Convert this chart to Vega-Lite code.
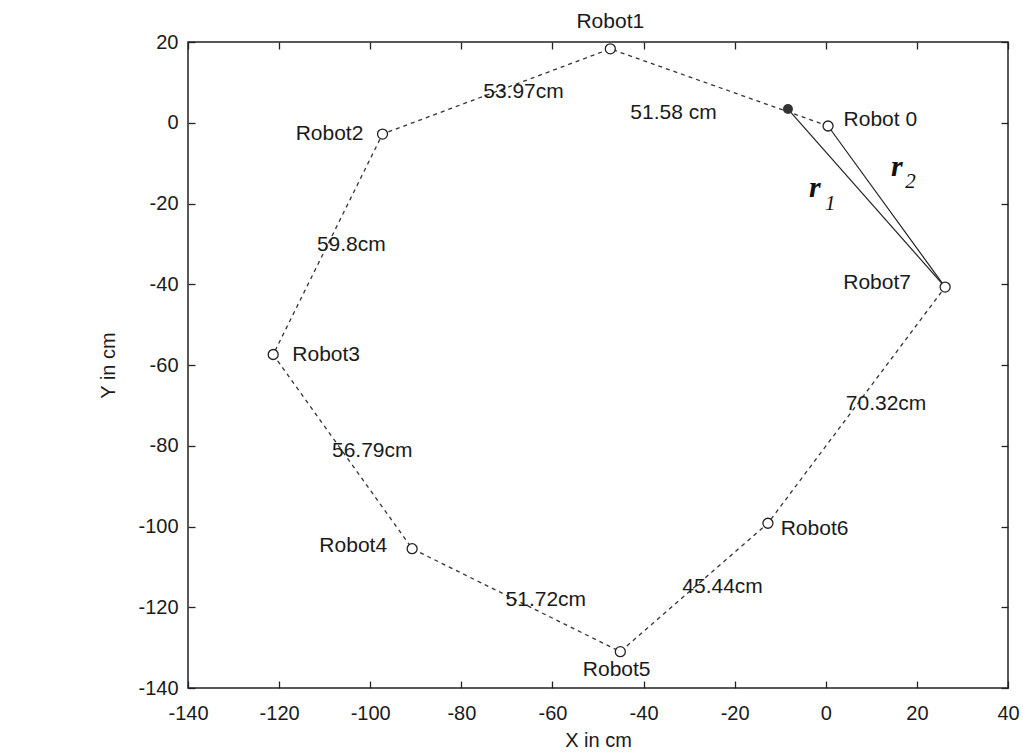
{
  "$schema": "https://vega.github.io/schema/vega-lite/v6.json",
  "width": 820,
  "height": 646,
  "autosize": {"type": "none"},
  "padding": {"left": 188, "top": 42, "right": 15, "bottom": 67},
  "background": "white",
  "config": {
    "view": {"stroke": "#222", "strokeWidth": 1.5},
    "font": "Liberation Sans",
    "text": {"font": "Liberation Sans", "fontSize": 21, "color": "#1a1a1a"}
  },
  "datasets": {
    "pts": [
      {"name": "Robot 0", "x": 0.5, "y": -0.8, "ord": 0},
      {"name": "Robot1", "x": -47.3, "y": 18.3, "ord": 1},
      {"name": "Robot2", "x": -97.3, "y": -2.8, "ord": 2},
      {"name": "Robot3", "x": -121.3, "y": -57.4, "ord": 3},
      {"name": "Robot4", "x": -90.8, "y": -105.5, "ord": 4},
      {"name": "Robot5", "x": -45.1, "y": -131.0, "ord": 5},
      {"name": "Robot6", "x": -12.7, "y": -99.2, "ord": 6},
      {"name": "Robot7", "x": 26.2, "y": -40.7, "ord": 7}
    ],
    "filled": [{"x": -8.3, "y": 3.4}],
    "segs": [
      {"seg": "r2", "x": 0.5, "y": -0.8, "ord": 0},
      {"seg": "r2", "x": 26.2, "y": -40.7, "ord": 1},
      {"seg": "r1", "x": -8.3, "y": 3.4, "ord": 0},
      {"seg": "r1", "x": 26.2, "y": -40.7, "ord": 1}
    ],
    "labelsLeft": [
      {"text": "Robot3", "x": -117.1, "y": -57.4},
      {"text": "Robot6", "x": -9.9, "y": -100.5},
      {"text": "Robot 0", "x": 3.9, "y": 0.8},
      {"text": "53.97cm", "x": -75.2, "y": 7.7},
      {"text": "51.58 cm", "x": -42.9, "y": 2.3},
      {"text": "59.8cm", "x": -111.7, "y": -30.2},
      {"text": "56.79cm", "x": -108.4, "y": -81.2},
      {"text": "51.72cm", "x": -70.3, "y": -118.3},
      {"text": "45.44cm", "x": -31.5, "y": -115.0},
      {"text": "70.32cm", "x": 4.4, "y": -69.7}
    ],
    "labelsRight": [
      {"text": "Robot2", "x": -101.5, "y": -2.7},
      {"text": "Robot4", "x": -96.3, "y": -104.9},
      {"text": "Robot7", "x": 18.7, "y": -39.7}
    ],
    "labelsCenter": [
      {"text": "Robot1", "x": -47.3, "y": 24.9},
      {"text": "Robot5", "x": -45.9, "y": -135.6}
    ],
    "rLetters": [
      {"text": "r", "x": -2.4, "y": -18.3},
      {"text": "r", "x": 15.6, "y": -13.3}
    ],
    "rSubs": [
      {"text": "1", "x": 1.0, "y": -21.6},
      {"text": "2", "x": 18.6, "y": -16.2}
    ]
  },
  "resolve": {"axis": {"x": "independent", "y": "independent"}},
  "layer": [
    {
      "data": {"name": "pts"},
      "mark": {"type": "line", "color": "#333", "strokeWidth": 1.3, "strokeDash": [4, 4]},
      "encoding": {
        "x": {"field": "x", "type": "quantitative",
          "scale": {"domain": [-140, 40], "nice": false, "zero": false},
          "axis": {"orient": "bottom", "offset": -7, "values": [-140, -120, -100, -80, -60, -40, -20, 0, 20, 40],
            "domain": false, "grid": false, "tickSize": 7, "tickColor": "#222", "tickWidth": 1.3,
            "labelExpr": "toString(datum.value)",
            "labelPadding": 15, "labelFontSize": 20, "labelColor": "#1a1a1a", "labelFlush": false, "labelOverlap": false,
            "title": "X in cm", "titleFontSize": 20, "titleFontWeight": "normal", "titleColor": "#1a1a1a",
            "titleBaseline": "middle", "titleY": 59, "titleX": 410}},
        "y": {"field": "y", "type": "quantitative",
          "scale": {"domain": [-140, 20], "nice": false, "zero": false},
          "axis": {"orient": "left", "offset": -7, "values": [-140, -120, -100, -80, -60, -40, -20, 0, 20],
            "domain": false, "grid": false, "tickSize": 7, "tickColor": "#222", "tickWidth": 1.3,
            "labelExpr": "toString(datum.value)",
            "labelPadding": 10, "labelFontSize": 20, "labelColor": "#1a1a1a", "labelFlush": false, "labelOverlap": false,
            "title": "Y in cm", "titleFontSize": 20, "titleFontWeight": "normal", "titleColor": "#1a1a1a",
            "titleBaseline": "middle", "titleX": -87, "titleY": 323, "titleAngle": -90}},
        "order": {"field": "ord", "type": "quantitative"}
      }
    },
    {
      "data": {"name": "segs"},
      "mark": {"type": "line", "color": "#222", "strokeWidth": 1.2},
      "encoding": {
        "x": {"field": "x", "type": "quantitative",
          "scale": {"domain": [-140, 40], "nice": false, "zero": false},
          "axis": {"orient": "top", "offset": -7, "values": [-140, -120, -100, -80, -60, -40, -20, 0, 20, 40],
            "domain": false, "grid": false, "labels": false, "tickSize": 7, "tickColor": "#222", "tickWidth": 1.3, "title": null}},
        "y": {"field": "y", "type": "quantitative",
          "scale": {"domain": [-140, 20], "nice": false, "zero": false},
          "axis": {"orient": "right", "offset": -7, "values": [-140, -120, -100, -80, -60, -40, -20, 0, 20],
            "domain": false, "grid": false, "labels": false, "tickSize": 7, "tickColor": "#222", "tickWidth": 1.3, "title": null}},
        "detail": {"field": "seg"},
        "order": {"field": "ord", "type": "quantitative"}
      }
    },
    {
      "data": {"name": "pts"},
      "mark": {"type": "point", "shape": "circle", "filled": false, "size": 100, "stroke": "#222", "strokeWidth": 1.3, "fill": "white", "fillOpacity": 1},
      "encoding": {
        "x": {"field": "x", "type": "quantitative", "scale": {"domain": [-140, 40], "nice": false, "zero": false}, "axis": null},
        "y": {"field": "y", "type": "quantitative", "scale": {"domain": [-140, 20], "nice": false, "zero": false}, "axis": null}
      }
    },
    {
      "data": {"name": "filled"},
      "mark": {"type": "point", "shape": "circle", "filled": true, "size": 100, "color": "#333", "opacity": 1},
      "encoding": {
        "x": {"field": "x", "type": "quantitative", "scale": {"domain": [-140, 40], "nice": false, "zero": false}, "axis": null},
        "y": {"field": "y", "type": "quantitative", "scale": {"domain": [-140, 20], "nice": false, "zero": false}, "axis": null}
      }
    },
    {
      "data": {"name": "labelsLeft"},
      "mark": {"type": "text", "align": "left", "baseline": "middle"},
      "encoding": {
        "x": {"field": "x", "type": "quantitative", "scale": {"domain": [-140, 40], "nice": false, "zero": false}, "axis": null},
        "y": {"field": "y", "type": "quantitative", "scale": {"domain": [-140, 20], "nice": false, "zero": false}, "axis": null},
        "text": {"field": "text"}
      }
    },
    {
      "data": {"name": "labelsRight"},
      "mark": {"type": "text", "align": "right", "baseline": "middle"},
      "encoding": {
        "x": {"field": "x", "type": "quantitative", "scale": {"domain": [-140, 40], "nice": false, "zero": false}, "axis": null},
        "y": {"field": "y", "type": "quantitative", "scale": {"domain": [-140, 20], "nice": false, "zero": false}, "axis": null},
        "text": {"field": "text"}
      }
    },
    {
      "data": {"name": "labelsCenter"},
      "mark": {"type": "text", "align": "center", "baseline": "middle"},
      "encoding": {
        "x": {"field": "x", "type": "quantitative", "scale": {"domain": [-140, 40], "nice": false, "zero": false}, "axis": null},
        "y": {"field": "y", "type": "quantitative", "scale": {"domain": [-140, 20], "nice": false, "zero": false}, "axis": null},
        "text": {"field": "text"}
      }
    },
    {
      "data": {"name": "rLetters"},
      "mark": {"type": "text", "align": "center", "baseline": "alphabetic", "font": "Liberation Serif", "fontSize": 30, "fontWeight": "bold", "fontStyle": "italic", "color": "#111"},
      "encoding": {
        "x": {"field": "x", "type": "quantitative", "scale": {"domain": [-140, 40], "nice": false, "zero": false}, "axis": null},
        "y": {"field": "y", "type": "quantitative", "scale": {"domain": [-140, 20], "nice": false, "zero": false}, "axis": null},
        "text": {"field": "text"}
      }
    },
    {
      "data": {"name": "rSubs"},
      "mark": {"type": "text", "align": "center", "baseline": "alphabetic", "font": "Liberation Serif", "fontSize": 21, "fontStyle": "italic", "color": "#111"},
      "encoding": {
        "x": {"field": "x", "type": "quantitative", "scale": {"domain": [-140, 40], "nice": false, "zero": false}, "axis": null},
        "y": {"field": "y", "type": "quantitative", "scale": {"domain": [-140, 20], "nice": false, "zero": false}, "axis": null},
        "text": {"field": "text"}
      }
    }
  ]
}
